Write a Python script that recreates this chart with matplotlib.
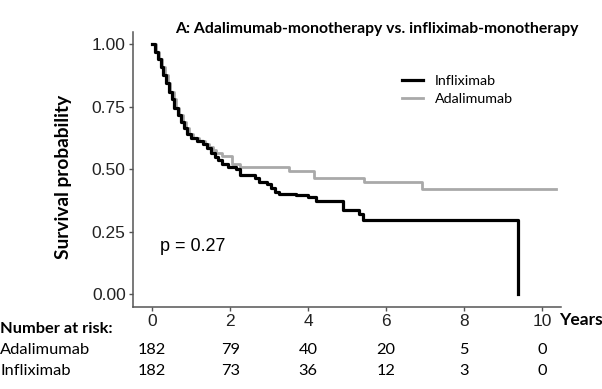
import matplotlib
matplotlib.use("Agg")
import matplotlib.pyplot as plt
from matplotlib.transforms import blended_transform_factory

# Kaplan-Meier steps
inf_time = [0, 0.08, 0.15, 0.22, 0.29, 0.36, 0.43, 0.5, 0.57, 0.65, 0.73, 0.81, 0.9, 1.0,
            1.15, 1.3, 1.4, 1.5, 1.6, 1.7, 1.8, 1.95, 2.15, 2.25, 2.65, 2.75, 2.95, 3.05,
            3.15, 3.25, 3.7, 4.0, 4.2, 4.9, 5.3, 5.4, 9.38]
inf_surv = [1.0, 0.97, 0.94, 0.91, 0.877, 0.845, 0.81, 0.78, 0.745, 0.715, 0.69, 0.663, 0.64, 0.625,
            0.612, 0.60, 0.585, 0.565, 0.55, 0.537, 0.52, 0.509, 0.50, 0.478, 0.465, 0.449, 0.44, 0.425,
            0.41, 0.40, 0.395, 0.388, 0.372, 0.337, 0.322, 0.296, 0.0]

ada_time = [0, 0.1, 0.18, 0.25, 0.33, 0.4, 0.47, 0.55, 0.62, 0.7, 0.78, 0.86, 0.95, 1.05,
            1.2, 1.35, 1.45, 1.55, 1.65, 1.78, 2.05, 2.25, 3.5, 4.15, 5.43, 6.93, 10.37]
ada_surv = [1.0, 0.97, 0.94, 0.91, 0.877, 0.845, 0.81, 0.78, 0.745, 0.715, 0.69, 0.663, 0.64, 0.625,
            0.612, 0.60, 0.59, 0.575, 0.565, 0.553, 0.522, 0.509, 0.493, 0.466, 0.45, 0.419, 0.419]

risk_times = [0, 2, 4, 6, 8, 10]
risk_ada = [182, 79, 40, 20, 5, 0]
risk_inf = [182, 73, 36, 12, 3, 0]

lab_font = 'Lato'
num_font = 'Liberation Sans'

fig = plt.figure(figsize=(6.02, 3.89), dpi=100)
ax = fig.add_axes([0.2204, 0.2116, 0.7123, 0.7069])

l_inf, = ax.step(inf_time, inf_surv, where='post', color='black', lw=2.3, label='Infliximab')
l_ada, = ax.step(ada_time, ada_surv, where='post', color='#a9a9a9', lw=2.0, label='Adalimumab')
# keep black on top
l_inf.set_zorder(3)

ax.set_xlim(-0.5, 10.5)
ax.set_ylim(-0.05, 1.05)
ax.set_xticks(risk_times)
ax.set_yticks([0, 0.25, 0.5, 0.75, 1.0])
ax.set_yticklabels(['0.00', '0.25', '0.50', '0.75', '1.00'])
for s in ['top', 'right']:
    ax.spines[s].set_visible(False)
for s in ['left', 'bottom']:
    ax.spines[s].set_color('#555555')
    ax.spines[s].set_linewidth(1.1)
ax.tick_params(colors='#555555', length=3, width=1, pad=2)
for t in ax.get_xticklabels() + ax.get_yticklabels():
    t.set_fontfamily(num_font)
    t.set_fontsize(12.5)
    t.set_color('#222222')

ax.text(0.2, 0.19, 'p = 0.27', family=num_font, fontsize=13, ha='left', va='center')

fig.text(377 / 602, 1 - 29 / 389, 'A: Adalimumab-monotherapy vs. infliximab-monotherapy',
         family=lab_font, fontweight='bold', fontsize=11.3, ha='center', va='center')
fig.text(63 / 602, 1 - 177 / 389, 'Survival probability', family=lab_font, fontweight='bold',
         fontsize=13.8, rotation=90, ha='center', va='center')

ax.legend(handles=[l_inf, l_ada], frameon=False, loc='upper left',
          bbox_to_anchor=(401.7 / 602, 1 - 75 / 389), bbox_transform=fig.transFigure,
          prop={'family': lab_font, 'size': 10.3}, handlelength=1.5, handletextpad=0.8,
          labelspacing=0.4, borderpad=0, borderaxespad=0)

fig.text(559 / 602, 1 - 320 / 389, 'Years', family=lab_font, fontweight='bold',
         fontsize=12.5, ha='left', va='center')

# number at risk table
tr = blended_transform_factory(ax.transData, fig.transFigure)
fig.text(0.0, 1 - 329 / 389, 'Number at risk:', family=lab_font, fontweight='bold',
         fontsize=11.8, ha='left', va='center')
fig.text(0.0, 1 - 350 / 389, 'Adalimumab', family=lab_font, fontsize=11.8, ha='left', va='center')
fig.text(0.0, 1 - 371 / 389, 'Infliximab', family=lab_font, fontsize=11.8, ha='left', va='center')
for x, a, b in zip(risk_times, risk_ada, risk_inf):
    ax.text(x, 1 - 350 / 389, str(a), transform=tr, family=lab_font, fontsize=11.8,
            ha='center', va='center')
    ax.text(x, 1 - 371 / 389, str(b), transform=tr, family=lab_font, fontsize=11.8,
            ha='center', va='center')

fig.savefig('out.png', dpi=100)
